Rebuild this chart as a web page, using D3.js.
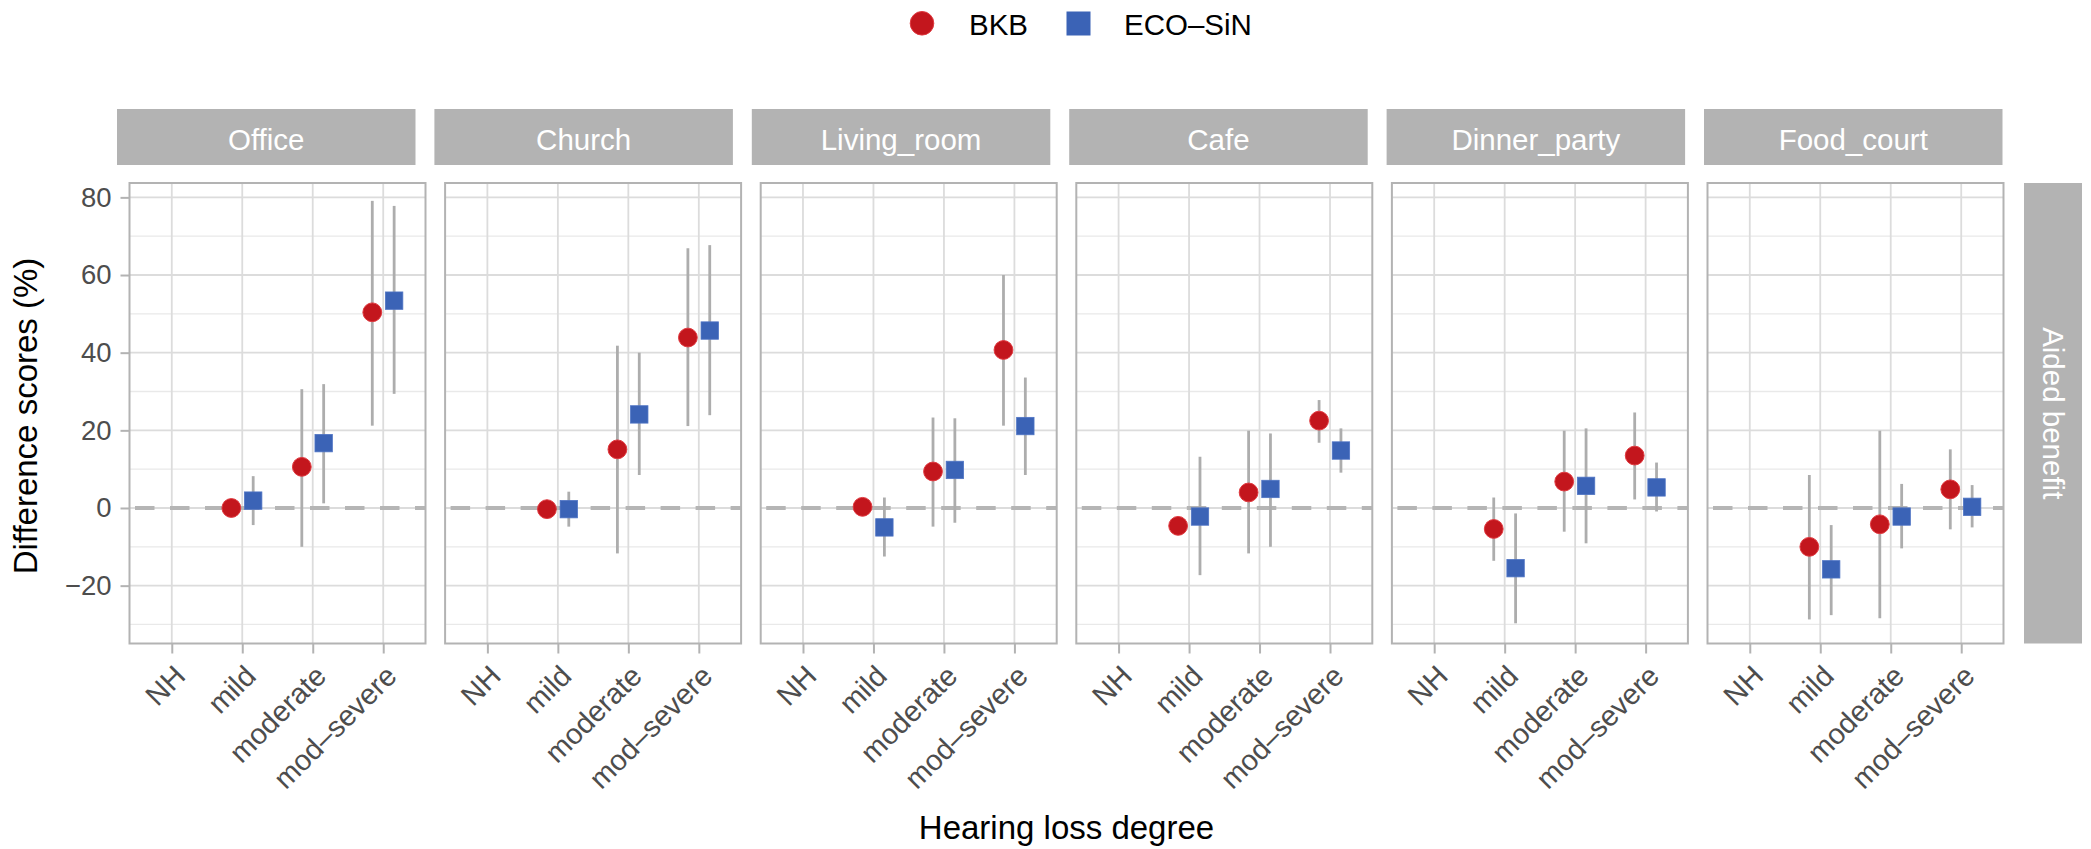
<!DOCTYPE html>
<html>
<head>
<meta charset="utf-8">
<script src="https://cdn.jsdelivr.net/npm/d3@7/dist/d3.min.js"></script>
<style>
  html, body { margin: 0; padding: 0; background: #fff; }
  svg { display: block; font-family: "Liberation Sans", Arial, Helvetica, sans-serif; }
</style>
</head>
<body>
<script>
// ---------------- data ----------------
const facets = ["Office", "Church", "Living_room", "Cafe", "Dinner_party", "Food_court"];
const degrees = ["NH", "mild", "moderate", "mod\u2013severe"];
const seriesNames = ["BKB", "ECO\u2013SiN"];
const yTicks = [-20, 0, 20, 40, 60, 80];
const yMinorTicks = [-30, -10, 10, 30, 50, 70];
const rowLabel = "Aided benefit";

// BKB: mean, lower, upper per facet, per degree (NH has no data)
const bkbMean = [
  [null, 0.0, 10.6, 50.4],
  [null, -0.3, 15.1, 43.9],
  [null, 0.3, 9.4, 40.7],
  [null, -4.6, 4.0, 22.5],
  [null, -5.4, 6.8, 13.5],
  [null, -10.0, -4.2, 4.8]
];
const bkbLow = [
  [null, null, -10.0, 21.2],
  [null, null, -11.7, 21.1],
  [null, null, -4.8, 21.2],
  [null, null, -11.7, 16.8],
  [null, -13.6, -6.1, 2.2],
  [null, -28.7, -28.4, -5.5]
];
const bkbHigh = [
  [null, null, 30.6, 79.1],
  [null, null, 41.8, 66.9],
  [null, null, 23.3, 60.0],
  [null, null, 19.9, 27.8],
  [null, 2.7, 19.9, 24.6],
  [null, 8.5, 19.9, 15.1]
];

// ECO-SiN
const ecoMean = [
  [null, 1.9, 16.7, 53.4],
  [null, -0.3, 24.1, 45.7],
  [null, -5.0, 9.8, 21.1],
  [null, -2.2, 4.9, 14.8],
  [null, -15.5, 5.7, 5.3],
  [null, -15.8, -2.2, 0.3]
];
const ecoLow = [
  [null, -4.4, 1.2, 29.4],
  [null, -4.8, 8.5, 23.9],
  [null, -12.5, -3.8, 8.5],
  [null, -17.3, -10.0, 9.1],
  [null, -29.7, -9.1, -0.9],
  [null, -27.6, -10.4, -5.0]
];
const ecoHigh = [
  [null, 8.2, 31.9, 77.8],
  [null, 4.2, 40.0, 67.7],
  [null, 2.7, 23.1, 33.6],
  [null, 13.2, 19.2, 20.5],
  [null, -1.4, 20.5, 11.7],
  [null, -4.4, 6.2, 5.9]
];

// ---------------- layout ----------------
const W = 2091, H = 849;
const panelLeft0 = 129.5, panelPitch = 315.6, panelW = 296;
const panelTop = 183, panelBottom = 643.5;
const stripTop = 109, stripBottom = 165, stripW = 298.5;
const colBKB = "#c3161d", colECO = "#3b63b6";
const gridMajor = "#dcdcdc", gridMinor = "#e9e9e9", borderCol = "#b3b3b3";
const stripFill = "#b3b3b3";

const svg = d3.select("body").append("svg")
  .attr("width", W).attr("height", H);

svg.append("rect").attr("width", W).attr("height", H).attr("fill", "#fff");

const y = d3.scaleLinear().domain([-34.9, 83.7]).range([panelBottom, panelTop]);

facets.forEach((facet, i) => {
  const x0 = panelLeft0 + i * panelPitch;
  const x = d3.scalePoint().domain(degrees).range([x0, x0 + panelW]).padding(0.6);
  const step = x.step();
  const dodge = 0.155 * step;
  const g = svg.append("g");

  // strip
  const sx = x0 - 12.5 + 1.8 * i;
  g.append("rect").attr("x", sx).attr("y", stripTop)
    .attr("width", stripW).attr("height", stripBottom - stripTop)
    .attr("fill", stripFill);
  g.append("text").attr("x", sx + stripW / 2).attr("y", 150)
    .attr("text-anchor", "middle").attr("fill", "#fff")
    .attr("font-size", 29.5).text(facet);

  // minor grid
  g.selectAll(".ymin").data(yMinorTicks).enter().append("line")
    .attr("x1", x0).attr("x2", x0 + panelW)
    .attr("y1", d => y(d)).attr("y2", d => y(d))
    .attr("stroke", gridMinor).attr("stroke-width", 1.3);
  // major grid
  g.selectAll(".ymaj").data(yTicks).enter().append("line")
    .attr("x1", x0).attr("x2", x0 + panelW)
    .attr("y1", d => y(d)).attr("y2", d => y(d))
    .attr("stroke", gridMajor).attr("stroke-width", 1.8);
  g.selectAll(".xmaj").data(degrees).enter().append("line")
    .attr("x1", d => x(d)).attr("x2", d => x(d))
    .attr("y1", panelTop).attr("y2", panelBottom)
    .attr("stroke", gridMajor).attr("stroke-width", 1.8);

  // zero reference line
  g.append("line")
    .attr("x1", x0).attr("x2", x0 + panelW)
    .attr("y1", y(0)).attr("y2", y(0))
    .attr("stroke", "#b5b5b5").attr("stroke-width", 4)
    .attr("stroke-dasharray", "19.5 15.5").attr("stroke-dashoffset", -5.5);

  // series data
  const series = [
    { name: seriesNames[0], mean: bkbMean[i], low: bkbLow[i], high: bkbHigh[i], off: -dodge, color: colBKB, shape: "circle" },
    { name: seriesNames[1], mean: ecoMean[i], low: ecoLow[i], high: ecoHigh[i], off: dodge, color: colECO, shape: "square" }
  ];

  // error bars
  series.forEach(s => {
    degrees.forEach((d, k) => {
      if (s.low[k] == null || s.high[k] == null) return;
      g.append("line")
        .attr("x1", x(d) + s.off).attr("x2", x(d) + s.off)
        .attr("y1", y(s.low[k])).attr("y2", y(s.high[k]))
        .attr("stroke", "#adadad").attr("stroke-width", 2.8);
    });
  });
  // points
  series.forEach(s => {
    degrees.forEach((d, k) => {
      if (s.mean[k] == null) return;
      const cx = x(d) + s.off, cy = y(s.mean[k]);
      if (s.shape === "circle") {
        g.append("circle").attr("cx", cx).attr("cy", cy).attr("r", 9.4)
          .attr("fill", s.color).attr("stroke", "#e0393f").attr("stroke-width", 1);
      } else {
        const side = 17.4;
        g.append("rect").attr("x", cx - side / 2).attr("y", cy - side / 2)
          .attr("width", side).attr("height", side)
          .attr("fill", s.color).attr("stroke", "#4f74c4").attr("stroke-width", 0.8);
      }
    });
  });

  // panel border
  g.append("rect").attr("x", x0).attr("y", panelTop)
    .attr("width", panelW).attr("height", panelBottom - panelTop)
    .attr("fill", "none").attr("stroke", borderCol).attr("stroke-width", 2);

  // x axis
  const xa = g.append("g").attr("transform", `translate(0,${panelBottom})`)
    .call(d3.axisBottom(x).tickSize(10));
  xa.select(".domain").remove();
  xa.selectAll(".tick line").attr("stroke", borderCol).attr("stroke-width", 2);
  xa.selectAll(".tick text")
    .attr("fill", "#4d4d4d").attr("font-size", 29)
    .attr("font-family", "Liberation Sans, Arial, sans-serif")
    .attr("text-anchor", "end")
    .attr("x", 0).attr("y", 0).attr("dy", "0.72em")
    .attr("transform", "translate(0,19.5) rotate(-45)");

  // y axis on first panel only
  if (i === 0) {
    const ya = g.append("g").attr("transform", `translate(${x0},0)`)
      .call(d3.axisLeft(y).tickValues(yTicks).tickSize(9).tickPadding(9));
    ya.select(".domain").remove();
    ya.selectAll(".tick line").attr("stroke", borderCol).attr("stroke-width", 2);
    ya.selectAll(".tick text")
      .attr("fill", "#4d4d4d").attr("font-size", 27.5)
      .attr("font-family", "Liberation Sans, Arial, sans-serif");
  }
});

// right-hand row strip
const lastRight = panelLeft0 + 5 * panelPitch + panelW;
svg.append("rect").attr("x", lastRight + 20.5).attr("y", panelTop)
  .attr("width", 58).attr("height", panelBottom - panelTop)
  .attr("fill", stripFill);
svg.append("text")
  .attr("transform", `translate(${lastRight + 39},${(panelTop + panelBottom) / 2}) rotate(90)`)
  .attr("text-anchor", "middle").attr("fill", "#fff").attr("font-size", 29.5)
  .text(rowLabel);

// axis titles
svg.append("text")
  .attr("transform", `translate(37,416) rotate(-90)`)
  .attr("text-anchor", "middle").attr("fill", "#000").attr("font-size", 33)
  .text("Difference scores (%)");
svg.append("text")
  .attr("x", (panelLeft0 + lastRight) / 2).attr("y", 839)
  .attr("text-anchor", "middle").attr("fill", "#000").attr("font-size", 33)
  .text("Hearing loss degree");

// legend
const lg = svg.append("g");
lg.append("circle").attr("cx", 922).attr("cy", 23.3).attr("r", 11.8)
  .attr("fill", colBKB).attr("stroke", "#e0393f").attr("stroke-width", 1);
lg.append("text").attr("x", 969).attr("y", 35).attr("font-size", 29.5)
  .attr("fill", "#000").text(seriesNames[0]);
lg.append("rect").attr("x", 1066.5).attr("y", 11.5).attr("width", 24).attr("height", 24)
  .attr("fill", colECO);
lg.append("text").attr("x", 1124).attr("y", 35).attr("font-size", 29.5)
  .attr("fill", "#000").text(seriesNames[1]);
</script>
</body>
</html>
